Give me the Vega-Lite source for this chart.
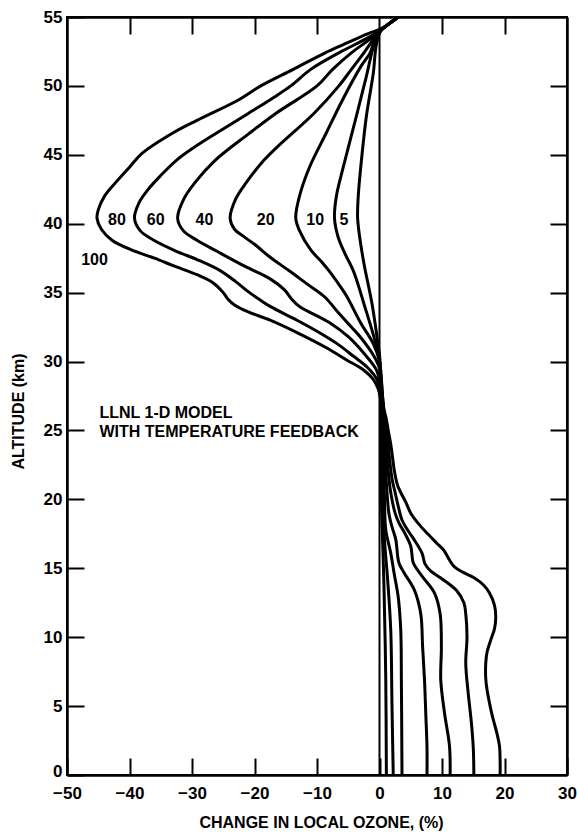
{
  "$schema": "https://vega.github.io/schema/vega-lite/v6.json",
  "width": 500,
  "height": 758,
  "autosize": {"type": "none"},
  "padding": {"left": 67, "top": 17, "right": 10, "bottom": 57},
  "background": "white",
  "config": {
    "view": {"stroke": "black", "strokeWidth": 2},
    "font": "Liberation Sans",
    "axis": {
      "grid": false,
      "domainColor": "black",
      "domainWidth": 2.5,
      "tickColor": "black",
      "tickWidth": 2,
      "tickSize": -17,
      "labelFont": "Liberation Sans",
      "labelFontSize": 17,
      "labelFontWeight": "bold",
      "labelColor": "black",
      "labelFlush": false,
      "titleFont": "Liberation Sans",
      "titleFontSize": 16,
      "titleFontWeight": "bold",
      "titleColor": "black"
    }
  },
  "datasets": {
    "curves": [
      {"pct": 100, "alt": 55.0, "x": 3.0},
      {"pct": 100, "alt": 54.5, "x": 1.5},
      {"pct": 100, "alt": 54.1, "x": 0.0},
      {"pct": 100, "alt": 53.8, "x": -1.8},
      {"pct": 100, "alt": 53.0, "x": -5.8},
      {"pct": 100, "alt": 52.4, "x": -8.7},
      {"pct": 100, "alt": 51.2, "x": -13.8},
      {"pct": 100, "alt": 50.0, "x": -19.0},
      {"pct": 100, "alt": 49.0, "x": -22.5},
      {"pct": 100, "alt": 47.5, "x": -29.2},
      {"pct": 100, "alt": 46.6, "x": -33.0},
      {"pct": 100, "alt": 45.1, "x": -38.0},
      {"pct": 100, "alt": 44.1, "x": -40.0},
      {"pct": 100, "alt": 43.0, "x": -42.2},
      {"pct": 100, "alt": 42.0, "x": -44.0},
      {"pct": 100, "alt": 41.0, "x": -45.0},
      {"pct": 100, "alt": 40.4, "x": -45.2},
      {"pct": 100, "alt": 39.6, "x": -44.5},
      {"pct": 100, "alt": 38.8, "x": -42.8},
      {"pct": 100, "alt": 38.1, "x": -39.7},
      {"pct": 100, "alt": 37.5, "x": -36.0},
      {"pct": 100, "alt": 36.9, "x": -32.7},
      {"pct": 100, "alt": 36.3, "x": -29.2},
      {"pct": 100, "alt": 35.7, "x": -26.6},
      {"pct": 100, "alt": 35.0, "x": -25.0},
      {"pct": 100, "alt": 34.5, "x": -24.2},
      {"pct": 100, "alt": 34.1, "x": -23.2},
      {"pct": 100, "alt": 33.6, "x": -21.0},
      {"pct": 100, "alt": 33.0, "x": -17.5},
      {"pct": 100, "alt": 32.1, "x": -13.2},
      {"pct": 100, "alt": 31.0, "x": -8.5},
      {"pct": 100, "alt": 30.1, "x": -5.2},
      {"pct": 100, "alt": 29.4, "x": -2.6},
      {"pct": 100, "alt": 28.7, "x": -1.0},
      {"pct": 100, "alt": 28.0, "x": -0.2},
      {"pct": 100, "alt": 27.0, "x": 0.3},
      {"pct": 100, "alt": 26.0, "x": 1.0},
      {"pct": 100, "alt": 25.0, "x": 1.4},
      {"pct": 100, "alt": 24.0, "x": 1.8},
      {"pct": 100, "alt": 23.0, "x": 2.1},
      {"pct": 100, "alt": 22.0, "x": 2.4},
      {"pct": 100, "alt": 21.0, "x": 2.9},
      {"pct": 100, "alt": 20.5, "x": 3.4},
      {"pct": 100, "alt": 19.8, "x": 4.2},
      {"pct": 100, "alt": 19.0, "x": 5.0},
      {"pct": 100, "alt": 18.2, "x": 6.3},
      {"pct": 100, "alt": 17.5, "x": 7.7},
      {"pct": 100, "alt": 16.8, "x": 9.2},
      {"pct": 100, "alt": 16.3, "x": 10.3},
      {"pct": 100, "alt": 15.6, "x": 11.2},
      {"pct": 100, "alt": 15.1, "x": 12.0},
      {"pct": 100, "alt": 14.7, "x": 13.4},
      {"pct": 100, "alt": 14.3, "x": 15.2},
      {"pct": 100, "alt": 13.8, "x": 16.6},
      {"pct": 100, "alt": 13.2, "x": 17.6},
      {"pct": 100, "alt": 12.3, "x": 18.4},
      {"pct": 100, "alt": 11.5, "x": 18.6},
      {"pct": 100, "alt": 10.6, "x": 18.4},
      {"pct": 100, "alt": 9.8, "x": 17.8},
      {"pct": 100, "alt": 8.9, "x": 17.2},
      {"pct": 100, "alt": 8.1, "x": 17.0},
      {"pct": 100, "alt": 7.0, "x": 17.0},
      {"pct": 100, "alt": 6.2, "x": 17.2},
      {"pct": 100, "alt": 5.0, "x": 17.7},
      {"pct": 100, "alt": 4.2, "x": 18.1},
      {"pct": 100, "alt": 3.0, "x": 18.8},
      {"pct": 100, "alt": 2.1, "x": 19.2},
      {"pct": 100, "alt": 1.0, "x": 19.3},
      {"pct": 100, "alt": 0.0, "x": 19.3},

      {"pct": 80, "alt": 55.0, "x": 3.0},
      {"pct": 80, "alt": 54.5, "x": 1.5},
      {"pct": 80, "alt": 54.0, "x": 0.0},
      {"pct": 80, "alt": 53.5, "x": -1.8},
      {"pct": 80, "alt": 52.4, "x": -6.5},
      {"pct": 80, "alt": 51.2, "x": -11.0},
      {"pct": 80, "alt": 50.0, "x": -14.2},
      {"pct": 80, "alt": 49.2, "x": -16.8},
      {"pct": 80, "alt": 48.0, "x": -21.0},
      {"pct": 80, "alt": 46.6, "x": -26.0},
      {"pct": 80, "alt": 45.5, "x": -29.8},
      {"pct": 80, "alt": 44.6, "x": -32.5},
      {"pct": 80, "alt": 43.5, "x": -35.0},
      {"pct": 80, "alt": 42.5, "x": -37.0},
      {"pct": 80, "alt": 41.5, "x": -38.5},
      {"pct": 80, "alt": 40.4, "x": -39.2},
      {"pct": 80, "alt": 39.5, "x": -38.3},
      {"pct": 80, "alt": 38.8, "x": -36.1},
      {"pct": 80, "alt": 38.0, "x": -32.5},
      {"pct": 80, "alt": 37.4, "x": -29.2},
      {"pct": 80, "alt": 36.6, "x": -25.5},
      {"pct": 80, "alt": 35.8, "x": -23.0},
      {"pct": 80, "alt": 35.0, "x": -20.8},
      {"pct": 80, "alt": 34.5, "x": -19.2},
      {"pct": 80, "alt": 34.0, "x": -17.5},
      {"pct": 80, "alt": 33.0, "x": -13.2},
      {"pct": 80, "alt": 32.2, "x": -10.0},
      {"pct": 80, "alt": 31.3, "x": -6.8},
      {"pct": 80, "alt": 30.4, "x": -4.2},
      {"pct": 80, "alt": 29.6, "x": -2.0},
      {"pct": 80, "alt": 28.7, "x": -0.4},
      {"pct": 80, "alt": 27.5, "x": 0.3},
      {"pct": 80, "alt": 26.0, "x": 0.9},
      {"pct": 80, "alt": 25.0, "x": 1.2},
      {"pct": 80, "alt": 23.0, "x": 1.6},
      {"pct": 80, "alt": 21.5, "x": 2.0},
      {"pct": 80, "alt": 20.5, "x": 2.5},
      {"pct": 80, "alt": 19.5, "x": 3.0},
      {"pct": 80, "alt": 18.5, "x": 3.6},
      {"pct": 80, "alt": 17.7, "x": 4.6},
      {"pct": 80, "alt": 17.1, "x": 5.5},
      {"pct": 80, "alt": 16.1, "x": 6.8},
      {"pct": 80, "alt": 15.3, "x": 7.3},
      {"pct": 80, "alt": 14.8, "x": 8.2},
      {"pct": 80, "alt": 14.3, "x": 9.8},
      {"pct": 80, "alt": 13.4, "x": 12.3},
      {"pct": 80, "alt": 12.5, "x": 13.5},
      {"pct": 80, "alt": 11.7, "x": 13.8},
      {"pct": 80, "alt": 10.0, "x": 14.0},
      {"pct": 80, "alt": 8.1, "x": 13.8},
      {"pct": 80, "alt": 5.9, "x": 14.2},
      {"pct": 80, "alt": 3.8, "x": 14.7},
      {"pct": 80, "alt": 2.0, "x": 15.0},
      {"pct": 80, "alt": 0.0, "x": 15.1},

      {"pct": 60, "alt": 55.0, "x": 3.0},
      {"pct": 60, "alt": 54.5, "x": 1.5},
      {"pct": 60, "alt": 54.0, "x": 0.0},
      {"pct": 60, "alt": 53.5, "x": -1.2},
      {"pct": 60, "alt": 52.4, "x": -4.5},
      {"pct": 60, "alt": 51.2, "x": -7.5},
      {"pct": 60, "alt": 50.0, "x": -10.0},
      {"pct": 60, "alt": 48.0, "x": -16.6},
      {"pct": 60, "alt": 46.5, "x": -21.0},
      {"pct": 60, "alt": 44.6, "x": -26.3},
      {"pct": 60, "alt": 43.0, "x": -29.5},
      {"pct": 60, "alt": 41.8, "x": -31.3},
      {"pct": 60, "alt": 40.4, "x": -32.3},
      {"pct": 60, "alt": 39.5, "x": -31.4},
      {"pct": 60, "alt": 38.8, "x": -29.2},
      {"pct": 60, "alt": 38.0, "x": -26.0},
      {"pct": 60, "alt": 36.9, "x": -21.5},
      {"pct": 60, "alt": 36.0, "x": -17.5},
      {"pct": 60, "alt": 35.2, "x": -15.2},
      {"pct": 60, "alt": 34.5, "x": -14.0},
      {"pct": 60, "alt": 34.0, "x": -12.8},
      {"pct": 60, "alt": 32.8, "x": -7.9},
      {"pct": 60, "alt": 31.8, "x": -5.0},
      {"pct": 60, "alt": 30.6, "x": -2.5},
      {"pct": 60, "alt": 29.4, "x": -0.5},
      {"pct": 60, "alt": 28.0, "x": 0.3},
      {"pct": 60, "alt": 26.0, "x": 0.8},
      {"pct": 60, "alt": 24.0, "x": 1.1},
      {"pct": 60, "alt": 22.0, "x": 1.4},
      {"pct": 60, "alt": 20.5, "x": 1.8},
      {"pct": 60, "alt": 19.0, "x": 2.5},
      {"pct": 60, "alt": 18.3, "x": 3.1},
      {"pct": 60, "alt": 17.5, "x": 4.1},
      {"pct": 60, "alt": 16.6, "x": 5.0},
      {"pct": 60, "alt": 15.4, "x": 5.4},
      {"pct": 60, "alt": 14.8, "x": 6.2},
      {"pct": 60, "alt": 14.2, "x": 7.2},
      {"pct": 60, "alt": 13.2, "x": 8.8},
      {"pct": 60, "alt": 11.7, "x": 9.7},
      {"pct": 60, "alt": 9.3, "x": 9.9},
      {"pct": 60, "alt": 6.9, "x": 9.8},
      {"pct": 60, "alt": 4.5, "x": 10.4},
      {"pct": 60, "alt": 2.1, "x": 11.2},
      {"pct": 60, "alt": 0.0, "x": 11.3},

      {"pct": 40, "alt": 55.0, "x": 3.0},
      {"pct": 40, "alt": 54.5, "x": 1.5},
      {"pct": 40, "alt": 54.0, "x": 0.0},
      {"pct": 40, "alt": 53.5, "x": -0.8},
      {"pct": 40, "alt": 52.4, "x": -2.5},
      {"pct": 40, "alt": 51.2, "x": -4.5},
      {"pct": 40, "alt": 50.0, "x": -6.5},
      {"pct": 40, "alt": 48.0, "x": -10.5},
      {"pct": 40, "alt": 45.6, "x": -16.3},
      {"pct": 40, "alt": 44.6, "x": -18.5},
      {"pct": 40, "alt": 43.0, "x": -21.3},
      {"pct": 40, "alt": 41.8, "x": -23.0},
      {"pct": 40, "alt": 40.4, "x": -23.9},
      {"pct": 40, "alt": 39.6, "x": -23.2},
      {"pct": 40, "alt": 39.1, "x": -21.8},
      {"pct": 40, "alt": 38.4, "x": -19.7},
      {"pct": 40, "alt": 37.6, "x": -17.6},
      {"pct": 40, "alt": 36.6, "x": -14.5},
      {"pct": 40, "alt": 35.6, "x": -11.5},
      {"pct": 40, "alt": 34.7, "x": -8.8},
      {"pct": 40, "alt": 33.5, "x": -6.5},
      {"pct": 40, "alt": 32.5, "x": -4.5},
      {"pct": 40, "alt": 31.8, "x": -3.1},
      {"pct": 40, "alt": 30.4, "x": -0.9},
      {"pct": 40, "alt": 29.5, "x": 0.0},
      {"pct": 40, "alt": 28.0, "x": 0.4},
      {"pct": 40, "alt": 26.0, "x": 0.7},
      {"pct": 40, "alt": 24.0, "x": 0.9},
      {"pct": 40, "alt": 22.0, "x": 1.0},
      {"pct": 40, "alt": 20.5, "x": 1.2},
      {"pct": 40, "alt": 19.0, "x": 1.5},
      {"pct": 40, "alt": 18.0, "x": 2.0},
      {"pct": 40, "alt": 17.1, "x": 2.6},
      {"pct": 40, "alt": 15.4, "x": 3.1},
      {"pct": 40, "alt": 14.7, "x": 3.9},
      {"pct": 40, "alt": 13.4, "x": 5.6},
      {"pct": 40, "alt": 11.7, "x": 6.6},
      {"pct": 40, "alt": 9.3, "x": 6.9},
      {"pct": 40, "alt": 6.9, "x": 7.2},
      {"pct": 40, "alt": 4.5, "x": 7.4},
      {"pct": 40, "alt": 2.0, "x": 7.6},
      {"pct": 40, "alt": 0.0, "x": 7.6},

      {"pct": 20, "alt": 55.0, "x": 3.0},
      {"pct": 20, "alt": 54.5, "x": 1.5},
      {"pct": 20, "alt": 54.0, "x": 0.2},
      {"pct": 20, "alt": 53.3, "x": -0.8},
      {"pct": 20, "alt": 52.4, "x": -1.5},
      {"pct": 20, "alt": 51.4, "x": -3.0},
      {"pct": 20, "alt": 49.0, "x": -5.9},
      {"pct": 20, "alt": 46.6, "x": -8.5},
      {"pct": 20, "alt": 44.1, "x": -11.2},
      {"pct": 20, "alt": 42.0, "x": -12.8},
      {"pct": 20, "alt": 40.4, "x": -13.4},
      {"pct": 20, "alt": 39.5, "x": -12.8},
      {"pct": 20, "alt": 38.1, "x": -11.0},
      {"pct": 20, "alt": 37.2, "x": -9.2},
      {"pct": 20, "alt": 36.6, "x": -8.1},
      {"pct": 20, "alt": 35.4, "x": -6.2},
      {"pct": 20, "alt": 34.7, "x": -5.2},
      {"pct": 20, "alt": 32.8, "x": -3.0},
      {"pct": 20, "alt": 31.3, "x": -1.0},
      {"pct": 20, "alt": 30.0, "x": 0.0},
      {"pct": 20, "alt": 28.0, "x": 0.4},
      {"pct": 20, "alt": 25.0, "x": 0.6},
      {"pct": 20, "alt": 22.0, "x": 0.7},
      {"pct": 20, "alt": 20.0, "x": 0.8},
      {"pct": 20, "alt": 17.8, "x": 1.0},
      {"pct": 20, "alt": 16.1, "x": 1.8},
      {"pct": 20, "alt": 14.6, "x": 2.35},
      {"pct": 20, "alt": 12.9, "x": 3.0},
      {"pct": 20, "alt": 10.5, "x": 3.4},
      {"pct": 20, "alt": 6.9, "x": 3.5},
      {"pct": 20, "alt": 0.0, "x": 3.6},

      {"pct": 10, "alt": 55.0, "x": 3.0},
      {"pct": 10, "alt": 54.5, "x": 1.5},
      {"pct": 10, "alt": 54.0, "x": 0.2},
      {"pct": 10, "alt": 53.1, "x": -0.8},
      {"pct": 10, "alt": 50.7, "x": -2.1},
      {"pct": 10, "alt": 47.8, "x": -3.7},
      {"pct": 10, "alt": 44.1, "x": -5.8},
      {"pct": 10, "alt": 42.0, "x": -6.9},
      {"pct": 10, "alt": 40.4, "x": -7.2},
      {"pct": 10, "alt": 39.0, "x": -6.6},
      {"pct": 10, "alt": 37.9, "x": -5.6},
      {"pct": 10, "alt": 36.6, "x": -4.2},
      {"pct": 10, "alt": 35.4, "x": -3.3},
      {"pct": 10, "alt": 34.2, "x": -2.5},
      {"pct": 10, "alt": 31.8, "x": -0.9},
      {"pct": 10, "alt": 30.0, "x": 0.0},
      {"pct": 10, "alt": 27.0, "x": 0.3},
      {"pct": 10, "alt": 24.0, "x": 0.4},
      {"pct": 10, "alt": 20.0, "x": 0.5},
      {"pct": 10, "alt": 17.0, "x": 0.8},
      {"pct": 10, "alt": 14.2, "x": 1.3},
      {"pct": 10, "alt": 10.5, "x": 1.8},
      {"pct": 10, "alt": 5.0, "x": 2.0},
      {"pct": 10, "alt": 0.0, "x": 2.2},

      {"pct": 5, "alt": 55.0, "x": 3.0},
      {"pct": 5, "alt": 54.5, "x": 1.5},
      {"pct": 5, "alt": 54.0, "x": 0.2},
      {"pct": 5, "alt": 53.0, "x": -0.5},
      {"pct": 5, "alt": 50.9, "x": -1.0},
      {"pct": 5, "alt": 47.8, "x": -2.1},
      {"pct": 5, "alt": 44.1, "x": -3.0},
      {"pct": 5, "alt": 42.0, "x": -3.4},
      {"pct": 5, "alt": 40.4, "x": -3.5},
      {"pct": 5, "alt": 38.5, "x": -3.0},
      {"pct": 5, "alt": 36.9, "x": -2.4},
      {"pct": 5, "alt": 34.2, "x": -1.2},
      {"pct": 5, "alt": 31.8, "x": -0.4},
      {"pct": 5, "alt": 30.0, "x": 0.1},
      {"pct": 5, "alt": 25.0, "x": 0.2},
      {"pct": 5, "alt": 20.0, "x": 0.3},
      {"pct": 5, "alt": 14.0, "x": 0.7},
      {"pct": 5, "alt": 7.0, "x": 1.0},
      {"pct": 5, "alt": 0.0, "x": 1.1}
    ],
    "labels": [
      {"label": "100", "x": -45.6, "alt": 37.4},
      {"label": "80", "x": -42.0, "alt": 40.3},
      {"label": "60", "x": -35.8, "alt": 40.3},
      {"label": "40", "x": -28.0, "alt": 40.3},
      {"label": "20", "x": -18.2, "alt": 40.3},
      {"label": "10", "x": -10.3, "alt": 40.3},
      {"label": "5", "x": -5.7, "alt": 40.3}
    ],
    "notes": [
      {"note": "LLNL 1-D MODEL", "x": -44.8, "alt": 26.3},
      {"note": "WITH TEMPERATURE FEEDBACK", "x": -44.8, "alt": 24.9}
    ],
    "zero": [{"x": 0}]
  },
  "layer": [
    {
      "data": {"name": "curves"},
      "mark": {"type": "line", "color": "black", "strokeWidth": 3, "interpolate": "catmull-rom", "strokeJoin": "round", "strokeCap": "round", "clip": true},
      "encoding": {
        "x": {
          "field": "x", "type": "quantitative",
          "scale": {"domain": [-50, 30], "nice": false, "zero": false},
          "axis": {
            "orient": "bottom",
            "values": [-50, -40, -30, -20, -10, 0, 10, 20, 30],
            "labelPadding": 27,
            "labelBaseline": "top",
            "title": "CHANGE IN LOCAL OZONE, (%)",
            "titleX": 254,
            "titleY": 47,
            "titleBaseline": "middle",
            "titleAlign": "center",
            "titleAngle": 0
          }
        },
        "y": {
          "field": "alt", "type": "quantitative",
          "scale": {"domain": [0, 55], "nice": false, "zero": false},
          "axis": {
            "orient": "left",
            "values": [0, 5, 10, 15, 20, 25, 30, 35, 40, 45, 50, 55],
            "labelPadding": 22,
            "labelOffset": {"condition": {"test": "datum.value === 0", "value": -4}, "value": 0},
            "title": "ALTITUDE (km)",
            "titleX": -49,
            "titleY": 394,
            "titleBaseline": "middle",
            "titleAlign": "center",
            "titleAngle": 270
          }
        },
        "detail": {"field": "pct", "type": "nominal"},
        "order": {"field": "alt", "type": "quantitative"}
      }
    },
    {
      "data": {"name": "zero"},
      "mark": {"type": "rule", "color": "black", "strokeWidth": 2},
      "encoding": {
        "x": {
          "field": "x", "type": "quantitative",
          "axis": {
            "orient": "top",
            "values": [-40, -30, -20, -10, 10, 20],
            "labels": false,
            "title": null
          }
        }
      }
    },
    {
      "data": {"name": "labels"},
      "mark": {"type": "text", "font": "Liberation Sans", "fontWeight": "bold", "fontSize": 16, "color": "black", "align": "center", "baseline": "middle"},
      "encoding": {
        "x": {"field": "x", "type": "quantitative", "axis": null},
        "y": {
          "field": "alt", "type": "quantitative",
          "axis": {
            "orient": "right",
            "values": [5, 10, 15, 20, 25, 30, 35, 40, 45, 50],
            "labels": false,
            "title": null
          }
        },
        "text": {"field": "label", "type": "nominal"}
      }
    },
    {
      "data": {"name": "notes"},
      "mark": {"type": "text", "font": "Liberation Sans", "fontWeight": "bold", "fontSize": 16, "color": "black", "align": "left", "baseline": "middle"},
      "encoding": {
        "x": {"field": "x", "type": "quantitative", "axis": null},
        "y": {"field": "alt", "type": "quantitative", "axis": null},
        "text": {"field": "note", "type": "nominal"}
      }
    }
  ]
}
